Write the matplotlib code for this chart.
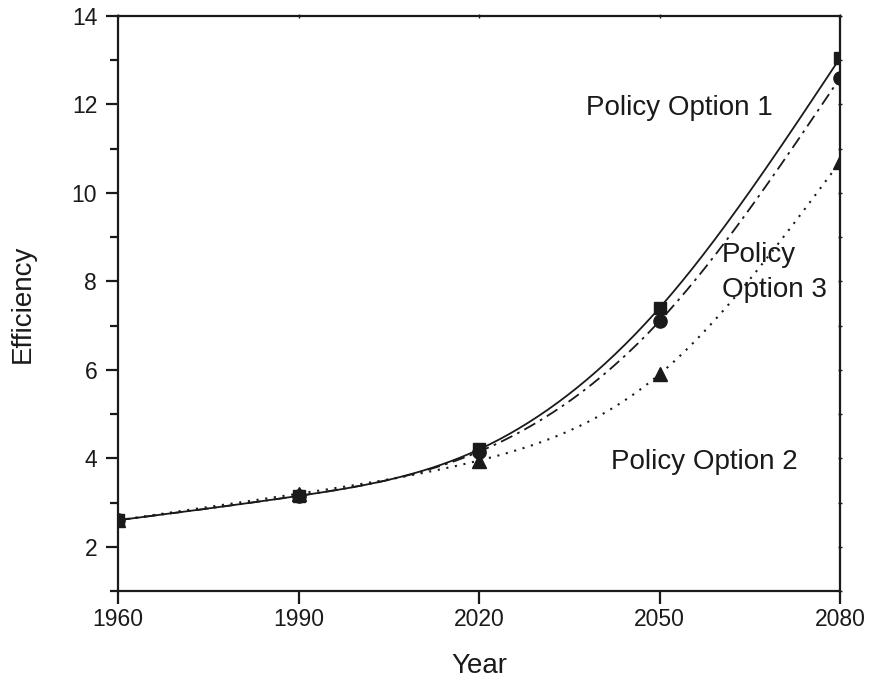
import numpy as np
import matplotlib
matplotlib.use("Agg")
import matplotlib.pyplot as plt
from matplotlib.ticker import MultipleLocator

plt.rcParams['font.family'] = ['Liberation Sans', 'DejaVu Sans']

years = [1960, 1990, 2020, 2050, 2080]
option1 = [2.6, 3.15, 4.2, 7.4, 13.05]
option3 = [2.6, 3.15, 4.15, 7.1, 12.6]
option2 = [2.6, 3.2, 3.95, 5.9, 10.7]


def natural_spline(x, y, n=300):
    x = np.asarray(x, float)
    y = np.asarray(y, float)
    m = len(x)
    h = np.diff(x)
    A = np.zeros((m, m))
    b = np.zeros(m)
    A[0, 0] = 1
    A[-1, -1] = 1
    for i in range(1, m - 1):
        A[i, i - 1] = h[i - 1]
        A[i, i] = 2 * (h[i - 1] + h[i])
        A[i, i + 1] = h[i]
        b[i] = 3 * ((y[i + 1] - y[i]) / h[i] - (y[i] - y[i - 1]) / h[i - 1])
    c = np.linalg.solve(A, b)
    xs = np.linspace(x[0], x[-1], n)
    ys = np.empty_like(xs)
    for k, xv in enumerate(xs):
        i = min(np.searchsorted(x, xv, side='right') - 1, m - 2)
        dx = xv - x[i]
        bi = (y[i + 1] - y[i]) / h[i] - h[i] * (2 * c[i] + c[i + 1]) / 3
        di = (c[i + 1] - c[i]) / (3 * h[i])
        ys[k] = y[i] + bi * dx + c[i] * dx ** 2 + di * dx ** 3
    return xs, ys


fig = plt.figure(figsize=(8.69, 6.83), dpi=100)
ax = fig.add_axes([118 / 869, 1 - 591 / 683, (840 - 118) / 869, (591 - 16) / 683])

col = '#1a1a1a'
xs, ys = natural_spline(years, option1)
ax.plot(xs, ys, color=col, lw=1.3, ls='-')
xs, ys = natural_spline(years, option3)
ax.plot(xs, ys, color=col, lw=1.3, ls=(0, (7, 3, 1.5, 3)))
xs, ys = natural_spline(years, option2)
ax.plot(xs, ys, color=col, lw=1.5, ls=(0, (1.0, 3.2)))

ax.plot(years, option1, ls='none', marker='s', ms=9, color=col)
ax.plot(years, option3, ls='none', marker='o', ms=9.5, color=col)
ax.plot(years, option2, ls='none', marker='^', ms=10.5, color=col)

ax.set_xlim(1960, 2080)
ax.set_ylim(1, 14)
ax.set_xticks(years)
ax.yaxis.set_major_locator(MultipleLocator(2))
ax.yaxis.set_minor_locator(MultipleLocator(1))

for s in ax.spines.values():
    s.set_linewidth(1.6)
    s.set_color(col)

ax.tick_params(axis='both', which='major', direction='out', length=9, width=1.6,
               labelsize=16.5, colors=col, pad=6)
ax.tick_params(axis='x', which='major', pad=3)
ax.tick_params(axis='y', which='minor', direction='out', length=6, width=1.6, colors=col)

# small ticks on the top and right frame
top = ax.secondary_xaxis('top')
top.set_xticks(years)
top.tick_params(direction='inout', length=3, width=1.0, labeltop=False, colors=col)
top.spines['top'].set_visible(False)
right = ax.secondary_yaxis('right')
right.yaxis.set_major_locator(MultipleLocator(2))
right.yaxis.set_minor_locator(MultipleLocator(1))
right.tick_params(which='both', direction='inout', length=3, width=1.0, labelright=False, colors=col)
right.spines['right'].set_visible(False)

ax.set_xlabel('Year', fontsize=20, color=col, labelpad=16)
ax.set_ylabel('Efficiency', fontsize=20, color=col, labelpad=26)

tk = dict(fontsize=20, color=col, va='center', ha='left')
ax.text(2037.8, 11.92, 'Policy Option 1', **tk)
ax.text(2060.4, 8.6, 'Policy', **tk)
ax.text(2060.4, 7.8, 'Option 3', **tk)
ax.text(2041.9, 3.92, 'Policy Option 2', **tk)

fig.savefig('out.png', dpi=100, facecolor='white')
